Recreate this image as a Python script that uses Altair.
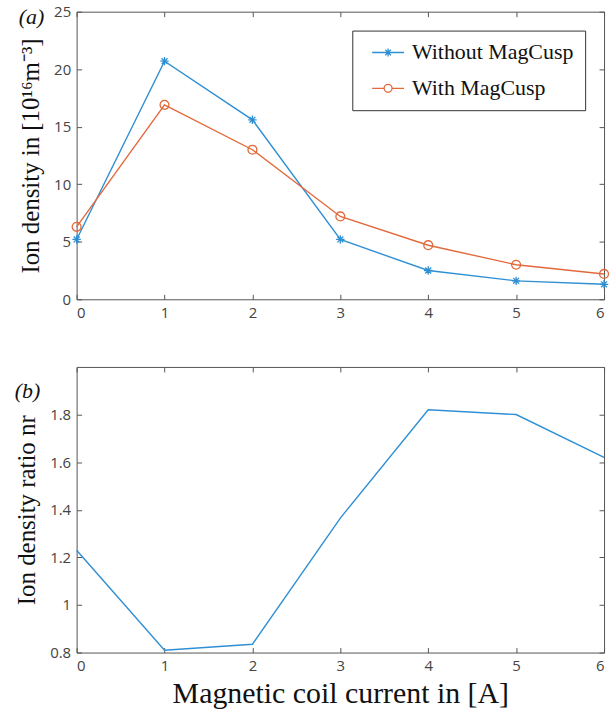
import altair as alt
import pandas as pd

# ---------------- data ----------------
currents = [0, 1, 2, 3, 4, 5, 6]
without_magcusp = [5.2, 20.7, 15.6, 5.2, 2.5, 1.6, 1.3]
with_magcusp = [6.3, 16.9, 13.0, 7.2, 4.7, 3.0, 2.2]
ratio_nr = [1.23, 0.81, 0.835, 1.365, 1.82, 1.80, 1.62]
series_names = ["Without MagCusp", "With MagCusp"]
density_ticks = [0, 5, 10, 15, 20, 25]
ratio_ticks = [0.8, 1.0, 1.2, 1.4, 1.6, 1.8]

# ---------------- style ----------------
BLUE = "#2f8fd3"
ORANGE = "#e2693c"
AXC = "#555555"
W = 530
H_TOP = 289
H_BOT = 287

ASTERISK = "M-1,0L1,0M0,-1L0,1M-0.7,-0.7L0.7,0.7M-0.7,0.7L0.7,-0.7"
LEG_AST = "M-4,0L4,0" + ASTERISK
LEG_CIRC = "M-4,0L-1,0M1,0L4,0M1,0A1,1,0,1,1,-1,0A1,1,0,1,1,1,0"

density_df = pd.DataFrame({
    "current": currents + currents,
    "density": without_magcusp + with_magcusp,
    "series": [series_names[0]] * len(currents) + [series_names[1]] * len(currents),
})
ratio_df = pd.DataFrame({"current": currents, "ratio": ratio_nr})

LBL = dict(labelFont="Open Sans", labelFontSize=15, labelColor="#444444")
TTL = dict(titleFont="Liberation Serif", titleFontWeight="normal", titleColor="#111111")


def ax_main(orient, values, fmt, title, title_size=25, title_pad=10, label_pad=6):
    return alt.Axis(orient=orient, values=values, format=fmt, offset=-5, tickSize=5,
                    tickColor=AXC, tickWidth=1, domain=False, grid=False,
                    labelPadding=label_pad, title=title, titleFontSize=title_size,
                    titlePadding=title_pad, **LBL, **TTL)


def ax_mirror(orient, values):
    return alt.Axis(orient=orient, values=values, offset=-5, tickSize=5, tickColor=AXC,
                    tickWidth=1, domain=False, grid=False, labels=False, title=None)


color_scale = alt.Scale(domain=series_names, range=[BLUE, ORANGE])
legend_shape_scale = alt.Scale(domain=series_names, range=[LEG_AST, LEG_CIRC])
x_scale = alt.Scale(domain=[0, 6], nice=False)
dens_scale = alt.Scale(domain=[0, 25], nice=False)

legend = alt.Legend(
    title=None, orient="none", legendX=277, legendY=19, direction="vertical",
    labelFont="Liberation Serif", labelFontSize=22, labelColor="#111111", labelLimit=300,
    labelOffset=13, symbolOffset=14, symbolSize=64, symbolStrokeWidth=1.3,
    symbolFillColor="transparent", symbolOpacity=1,
    padding=11, rowPadding=14, strokeColor="#333333", fillColor="white",
)

title_style = dict(anchor="start", frame="bounds", font="Liberation Serif", fontStyle="italic",
                   fontSize=22, fontWeight="normal", color="#111111")

# ---------------- panel (a) ----------------
base_a = alt.Chart(density_df)
lines_a = base_a.mark_line(strokeWidth=1.4).encode(
    x=alt.X("current:Q", scale=x_scale, axis=ax_main("bottom", currents, "d", None)),
    y=alt.Y("density:Q", scale=dens_scale,
            axis=ax_main("left", density_ticks, "d", "Ion density in [10¹⁶m⁻³]")),
    color=alt.Color("series:N", scale=color_scale, legend=legend),
)
stars_a = base_a.transform_filter(alt.datum.series == series_names[0]).mark_point(
    shape=ASTERISK, filled=False, size=72, strokeWidth=1.3, opacity=1, color=BLUE).encode(
    x=alt.X("current:Q", scale=x_scale, axis=ax_mirror("top", currents)),
    y=alt.Y("density:Q", scale=dens_scale, axis=ax_mirror("right", density_ticks)),
)
circles_a = base_a.transform_filter(alt.datum.series == series_names[1]).mark_point(
    shape="circle", filled=False, size=80, strokeWidth=1.3, opacity=1, color=ORANGE).encode(
    x=alt.X("current:Q", scale=x_scale, axis=None),
    y=alt.Y("density:Q", scale=dens_scale, axis=None),
)
legend_a = base_a.transform_filter("false").mark_point(filled=False, strokeWidth=1.3).encode(
    x=alt.X("current:Q", scale=x_scale, axis=None),
    y=alt.Y("density:Q", scale=dens_scale, axis=None),
    color=alt.Color("series:N", scale=color_scale, legend=legend),
    shape=alt.Shape("series:N", scale=legend_shape_scale, legend=legend),
)
panel_a = alt.layer(lines_a, stars_a, circles_a, legend_a).resolve_axis(
    x="independent", y="independent").properties(
    width=W, height=H_TOP,
    title=alt.TitleParams("(a)", offset=-24, **title_style),
)

# ---------------- panel (b) ----------------
ratio_scale = alt.Scale(domain=[0.8, 2.0], nice=False)
line_b = alt.Chart(ratio_df).mark_line(strokeWidth=1.4, color=BLUE).encode(
    x=alt.X("current:Q", scale=x_scale,
            axis=ax_main("bottom", currents, "d", "Magnetic coil current in [A]", title_size=30, title_pad=5)),
    y=alt.Y("ratio:Q", scale=ratio_scale,
            axis=ax_main("left", ratio_ticks, "~g", "Ion density ratio nr")),
)
mirror_b = alt.Chart(ratio_df).mark_point(opacity=0).encode(
    x=alt.X("current:Q", scale=x_scale, axis=ax_mirror("top", currents)),
    y=alt.Y("ratio:Q", scale=ratio_scale, axis=ax_mirror("right", ratio_ticks)),
)
panel_b = alt.layer(line_b, mirror_b).resolve_axis(x="independent", y="independent").properties(
    width=W, height=H_BOT,
    title=alt.TitleParams("(b)", offset=-37, **title_style),
)

chart = alt.vconcat(panel_a, panel_b, spacing=45).properties(
    padding={"left": 14, "top": 2, "right": 0, "bottom": 0},
    background="white",
).configure_view(stroke=AXC, strokeWidth=1)

chart.save("out.html", embed_options={"renderer": "svg", "actions": False})
